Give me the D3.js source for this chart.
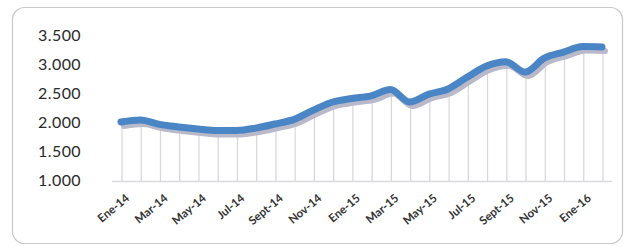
<!DOCTYPE html>
<html>
<head>
<meta charset="utf-8">
<script src="https://cdn.jsdelivr.net/npm/d3@7"></script>
<style>
  body { margin: 0; background: #fff; }
</style>
</head>
<body>
<div id="vis"></div>
<script>
const w = 626;
const h = 251;
const margin = ({
    top: 35,
    right: 24,
    bottom: 70,
    left: 121
});

// monthly series, Ene-14 .. Feb-16
const months = ["Ene-14", "Feb-14", "Mar-14", "Abr-14", "May-14", "Jun-14", "Jul-14", "Ago-14", "Sept-14", "Oct-14", "Nov-14", "Dic-14",
    "Ene-15", "Feb-15", "Mar-15", "Abr-15", "May-15", "Jun-15", "Jul-15", "Ago-15", "Sept-15", "Oct-15", "Nov-15", "Dic-15",
    "Ene-16", "Feb-16"];
const values = [2000, 2035, 1960, 1915, 1880, 1855, 1855, 1895, 1965, 2045, 2205, 2345,
    2405, 2450, 2560, 2345, 2480, 2570, 2775, 2965, 3040, 2860, 3100, 3205,
    3300, 3295];
const yTicks = [1000, 1500, 2000, 2500, 3000, 3500];
const xLabels = ["Ene-14", "Mar-14", "May-14", "Jul-14", "Sept-14", "Nov-14", "Ene-15", "Mar-15", "May-15", "Jul-15", "Sept-15", "Nov-15", "Ene-16"];

const dataset = months.map((m, i) => ({ month: m, value: values[i] }));

const svg = d3.select('#vis')
    .append('svg')
    .attr('width', w)
    .attr('height', h)

// frame
svg.append('rect')
    .attr('x', 12.5)
    .attr('y', 7.5)
    .attr('width', 610)
    .attr('height', 236)
    .attr('rx', 12)
    .attr('fill', '#fff')
    .attr('stroke', '#c8c8c8')
    .attr('stroke-width', 1.2)

let xScale = d3.scalePoint()
    .domain(months)
    .range([margin.left, 602]);

let yScale = d3.scaleLinear()
    .domain([1000, 3500])
    .range([180, margin.top]);

let yAxis = d3.axisLeft()
    .scale(yScale)
    .tickValues(yTicks)
    .tickSize(0)
    .tickPadding(0)
    .tickFormat(d => d3.format(",")(d).replace(",", "."));

let xAxis = d3.axisBottom()
    .scale(xScale)
    .tickValues(xLabels)
    .tickSize(0);

// drop lines
svg.selectAll('line.drop')
    .data(dataset)
    .join('line')
    .attr('class', 'drop')
    .attr('x1', d => xScale(d.month) + 1)
    .attr('x2', d => xScale(d.month) + 1)
    .attr('y1', d => yScale(d.value) + 4)
    .attr('y2', yScale(1000) + 1)
    .attr('stroke', '#d6d6de')
    .attr('stroke-width', 1.2)

// baseline
svg.append('line')
    .attr('x1', 112)
    .attr('x2', 612)
    .attr('y1', yScale(1000) + 1.5)
    .attr('y2', yScale(1000) + 1.5)
    .attr('stroke', '#d9d9e0')
    .attr('stroke-width', 1.5)

let line = d3.line()
    .x(d => xScale(d.month))
    .y(d => yScale(d.value))
    .curve(d3.curveMonotoneX);

// shadow
svg.append('path')
    .datum(dataset)
    .attr('d', line)
    .attr('transform', 'translate(3, 4)')
    .attr('fill', 'none')
    .attr('stroke', '#b9b9c9')
    .attr('stroke-width', 6)
    .attr('stroke-linecap', 'round')

svg.append('path')
    .datum(dataset)
    .attr('d', line)
    .attr('fill', 'none')
    .attr('stroke', '#4a86c6')
    .attr('stroke-width', 7)
    .attr('stroke-linecap', 'round')
    .attr('stroke-linejoin', 'round')

svg.append('g')
    .attr('class', 'y axis')
    .attr('transform', 'translate(81, 0)')
    .call(yAxis)
    .call(g => g.select('.domain').remove())
    .selectAll('text')
    .attr('font-family', 'Lato, sans-serif')
    .attr('font-size', '16px')
    .attr('letter-spacing', '0.4px')
    .attr('fill', '#2a2a2a')

svg.append('g')
    .attr('class', 'x axis')
    .attr('transform', 'translate(0, ' + (yScale(1000) + 14) + ')')
    .call(xAxis)
    .call(g => g.select('.domain').remove())
    .selectAll('text')
    .attr('font-family', 'Lato, sans-serif')
    .attr('font-size', '11.5px')
    .attr('font-weight', 'bold')
    .attr('fill', '#333')
    .attr('text-anchor', 'end')
    .attr('dy', '0.35em')
    .attr('transform', 'translate(4, 0) rotate(-40)')
</script>
</body>
</html>
